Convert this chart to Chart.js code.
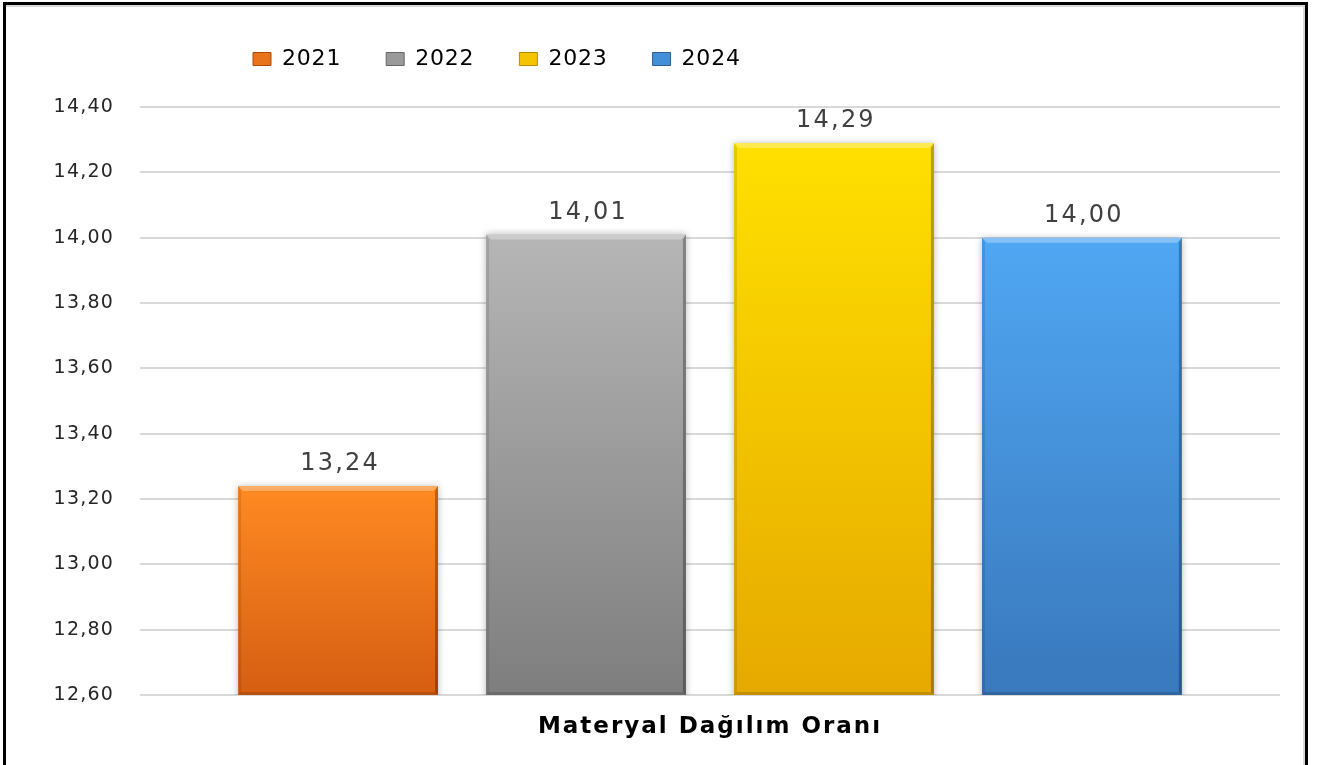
<!DOCTYPE html>
<html>
<head>
<meta charset="utf-8">
<title>Materyal Dağılım Oranı</title>
<script src="https://cdn.jsdelivr.net/npm/chart.js@4.4.1/dist/chart.umd.min.js"></script>
<style>
    html, body { margin: 0; padding: 0; background: #fff; }
    #wrap { position: relative; width: 1317px; height: 765px; overflow: hidden; }
    #myChart { position: absolute; left: 0; top: 0; }
    #frame {
        position: absolute; left: 3px; top: 2px; width: 1299px; height: 820px;
        border: 3px solid #000; box-shadow: inset -2px 2px 0 #d9d9d9; pointer-events: none;
    }
</style>
</head>
<body>
<div id="wrap">
    <canvas id="myChart" width="1317" height="765"></canvas>
    <div id="frame"></div>
</div>
<script>
// chart data
var categories = ['Materyal Dağılım Oranı'];
var seriesNames = ['2021', '2022', '2023', '2024'];
var values2021 = [13.24];
var values2022 = [14.01];
var values2023 = [14.29];
var values2024 = [14.00];
var yTickValues = [12.6, 12.8, 13.0, 13.2, 13.4, 13.6, 13.8, 14.0, 14.2, 14.4];

// colours: top of bar, bottom of bar, legend swatch
var palette = [
    { top: '#FF8A22', bottom: '#D55E12', mid: '#E8731A', edge: '#A94A0C' },
    { top: '#B6B6B6', bottom: '#7E7E7E', mid: '#9A9A9A', edge: '#666666' },
    { top: '#FFE000', bottom: '#E6A900', mid: '#F5C400', edge: '#B98A00' },
    { top: '#50A7F3', bottom: '#3978BC', mid: '#438FD8', edge: '#2C5E94' }
];

function formatComma(v) {
    return Number(v).toFixed(2).replace('.', ',');
}

function barFill(i) {
    return function(context) {
        var chart = context.chart;
        var c = palette[i];
        if (context.type !== 'data' || !chart.chartArea || !chart.scales.y) {
            return c.mid;
        }
        var yTop = chart.scales.y.getPixelForValue(context.raw);
        var g = chart.ctx.createLinearGradient(0, yTop, 0, chart.chartArea.bottom);
        g.addColorStop(0, c.top);
        g.addColorStop(1, c.bottom);
        return g;
    };
}

// the original text is drawn wide, so widen some text a little with letter spacing
function withSpacing(obj, method, spacing) {
    if (!obj || obj['_spaced_' + method]) return;
    var orig = obj[method];
    obj[method] = function() {
        var c = this.ctx;
        var old = c.letterSpacing;
        c.letterSpacing = spacing;
        orig.apply(this, arguments);
        c.letterSpacing = old;
    };
    obj['_spaced_' + method] = true;
}

// shadow, bevel and value labels on the bars
var barDecor = {
    id: 'barDecor',
    beforeLayout: function(chart) {
        var lg = chart.legend;
        if (lg && !lg._extraPatched) {
            var origFit = lg.fit;
            lg.fit = function() {
                origFit.call(this);
                this.height += 27;
            };
            lg._extraPatched = true;
        }
    },
    afterLayout: function(chart) {
        // legend sits left of centre in the original
        var shift = 208;
        chart.legend.left += shift;
        chart.legend.right += shift;
    },
    beforeDraw: function(chart) {
        withSpacing(chart.legend, 'draw', '0.8px');
        withSpacing(chart.scales.y, 'drawLabels', '1.2px');
        withSpacing(chart.scales.x, 'drawLabels', '2px');
    },
    beforeDatasetsDraw: function(chart) {
        var ctx = chart.ctx;
        ctx.save();
        ctx.shadowColor = 'rgba(0, 0, 0, 0.28)';
        ctx.shadowBlur = 7;
        ctx.shadowOffsetX = 0;
        ctx.shadowOffsetY = 0;
    },
    afterDatasetsDraw: function(chart) {
        var ctx = chart.ctx;
        ctx.restore();

        chart.data.datasets.forEach(function(ds, i) {
            var meta = chart.getDatasetMeta(i);
            meta.data.forEach(function(bar, j) {
                var left = bar.x - bar.width / 2;
                var right = bar.x + bar.width / 2;
                var top = bar.y;
                var bottom = Math.min(bar.base, chart.chartArea.bottom);
                var b = 5;
                ctx.save();
                // top highlight
                ctx.fillStyle = 'rgba(255, 255, 255, 0.3)';
                ctx.beginPath();
                ctx.moveTo(left, top);
                ctx.lineTo(right, top);
                ctx.lineTo(right - b, top + b);
                ctx.lineTo(left + b, top + b);
                ctx.closePath();
                ctx.fill();
                // left edge
                ctx.fillStyle = 'rgba(0, 0, 0, 0.10)';
                ctx.beginPath();
                ctx.moveTo(left, top);
                ctx.lineTo(left + 3, top + b);
                ctx.lineTo(left + 3, bottom - 3);
                ctx.lineTo(left, bottom);
                ctx.closePath();
                ctx.fill();
                // right edge
                ctx.fillStyle = 'rgba(0, 0, 0, 0.28)';
                ctx.beginPath();
                ctx.moveTo(right, top);
                ctx.lineTo(right - 3, top + b);
                ctx.lineTo(right - 3, bottom - 3);
                ctx.lineTo(right, bottom);
                ctx.closePath();
                ctx.fill();
                // bottom edge
                ctx.fillStyle = 'rgba(0, 0, 0, 0.15)';
                ctx.beginPath();
                ctx.moveTo(left, bottom);
                ctx.lineTo(left + 3, bottom - 3);
                ctx.lineTo(right - 3, bottom - 3);
                ctx.lineTo(right, bottom);
                ctx.closePath();
                ctx.fill();
                ctx.restore();
            });
        });

        ctx.save();
        ctx.font = '24px "DejaVu Sans"';
        ctx.letterSpacing = '2.2px';
        ctx.fillStyle = '#404040';
        ctx.textAlign = 'center';
        ctx.textBaseline = 'middle';
        chart.data.datasets.forEach(function(ds, i) {
            var meta = chart.getDatasetMeta(i);
            meta.data.forEach(function(bar, j) {
                ctx.fillText(formatComma(ds.data[j]), bar.x + 2, bar.y - 22);
            });
        });
        ctx.restore();
    }
};

var seriesValues = [values2021, values2022, values2023, values2024];
var datasets = [];
for (var i = 0; i < seriesNames.length; i++) {
    datasets.push({
        label: seriesNames[i],
        data: seriesValues[i],
        backgroundColor: barFill(i),
        borderWidth: 0,
        categoryPercentage: 0.87,
        barPercentage: 0.806
    });
}

var ctx = document.getElementById('myChart').getContext('2d');
var myChart = new Chart(ctx, {
    type: 'bar',
    data: {
        labels: categories,
        datasets: datasets
    },
    plugins: [barDecor],
    options: {
        responsive: false,
        animation: false,
        devicePixelRatio: 1,
        layout: {
            padding: { left: 0, right: 37, top: 3, bottom: 0 }
        },
        plugins: {
            tooltip: { enabled: false },
            legend: {
                position: 'top',
                align: 'start',
                labels: {
                    boxWidth: 18,
                    boxHeight: 13,
                    padding: 45,
                    color: '#1a1a1a',
                    font: { family: '"DejaVu Sans"', size: 22 },
                    generateLabels: function(chart) {
                        return chart.data.datasets.map(function(ds, i) {
                            return {
                                text: ds.label,
                                fillStyle: palette[i].mid,
                                strokeStyle: palette[i].edge,
                                lineWidth: 1,
                                datasetIndex: i,
                                hidden: false
                            };
                        });
                    }
                }
            }
        },
        scales: {
            x: {
                grid: { display: false },
                border: { display: false },
                ticks: {
                    color: '#000',
                    padding: 10,
                    font: { family: '"DejaVu Sans"', size: 23, weight: 'bold' }
                },
                afterFit: function(scale) {
                    scale.height = 70;
                }
            },
            y: {
                min: 12.6,
                max: 14.4,
                grid: { color: '#D9D9D9', lineWidth: 2, drawTicks: false },
                border: { display: false },
                afterBuildTicks: function(scale) {
                    scale.ticks = yTickValues.map(function(v) { return { value: v }; });
                },
                ticks: {
                    padding: 26,
                    color: '#262626',
                    font: { family: '"DejaVu Sans"', size: 19 },
                    callback: function(value) { return formatComma(value); }
                },
                afterFit: function(scale) {
                    scale.width = 140;
                }
            }
        }
    }
});
</script>
</body>
</html>
